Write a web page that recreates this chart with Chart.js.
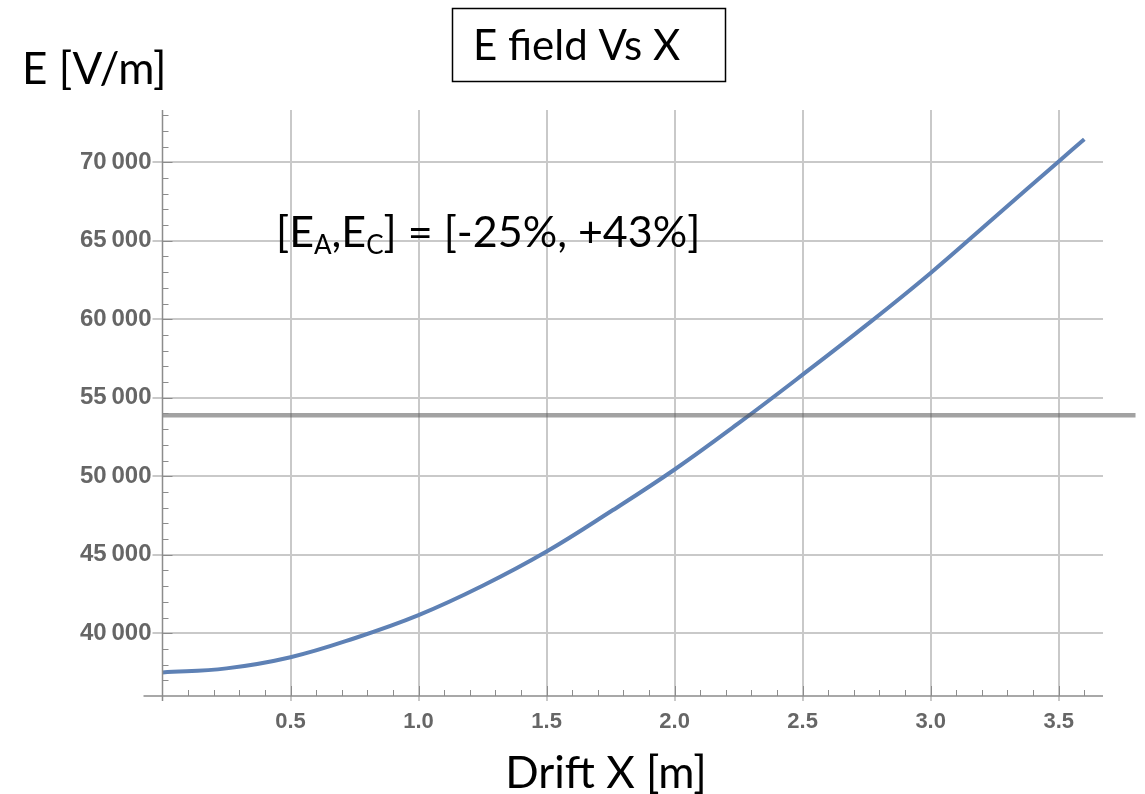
<!DOCTYPE html>
<html>
<head>
<meta charset="utf-8">
<script src="https://cdn.jsdelivr.net/npm/chart.js@4/dist/chart.umd.min.js"></script>
<style>
  html, body { margin: 0; padding: 0; background: #fff; }
  #wrap { width: 1145px; height: 794px; }
</style>
</head>
<body>
<div id="wrap"><canvas id="chart" width="1145" height="794"></canvas></div>
<script>
// valeurs (x en m, E en V/m)
const driftX = [0, 0.25, 0.5, 0.75, 1.0, 1.25, 1.5, 1.75, 2.0, 2.25, 2.5, 2.75, 3.0, 3.25, 3.5, 3.6];
const eField = [37500, 37760, 38470, 39680, 41150, 43020, 45200, 47750, 50430, 53380, 56470, 59640, 62950, 66500, 70050, 71470];

// graduations
const xTickValues = [0.5, 1.0, 1.5, 2.0, 2.5, 3.0, 3.5];
const yTickValues = [40000, 45000, 50000, 55000, 60000, 65000, 70000];

// ligne horizontale de référence
const refLineX = [0, 3.8];
const refLineE = 53880;

const chartTitle = "E field Vs X";
const yTitle = "E [V/m]";
const xTitle = "Drift X [m]";
const rangeNote = ["[E", "A", ",E", "C", "] = [-25%, +43%]"];

const axisGray = "#8c8c8c";
const gridGray = "#c9c9c9";
const textFont = "Lato, 'Open Sans', sans-serif";
const tickFont = "'Liberation Sans', Arial";

function groupDigits(v) {
  return String(v).replace(/\B(?=(\d{3})+(?!\d))/g, "\u2009");
}

// petits traits secondaires + axes + textes
const decorPlugin = {
  id: "decor",
  afterDraw(chart) {
    const { ctx, chartArea: a, scales: { x, y } } = chart;
    ctx.save();

    // traits mineurs
    ctx.strokeStyle = axisGray;
    ctx.lineWidth = 1;
    for (let i = 1; i <= 36; i++) {
      const px = Math.round(x.getPixelForValue(i / 10)) + 0.5;
      const len = i % 5 === 0 ? 10 : 6;
      ctx.beginPath();
      ctx.moveTo(px, a.bottom);
      ctx.lineTo(px, a.bottom - len);
      ctx.stroke();
    }
    for (let v = 37000; v <= 73000; v += 1000) {
      const py = Math.round(y.getPixelForValue(v)) + 0.5;
      const len = v % 5000 === 0 ? 10 : 6;
      ctx.beginPath();
      ctx.moveTo(a.left, py);
      ctx.lineTo(a.left + len, py);
      ctx.stroke();
    }

    // axes
    ctx.lineWidth = 1.5;
    ctx.beginPath();
    ctx.moveTo(a.left - 19, a.bottom);
    ctx.lineTo(a.right, a.bottom);
    ctx.moveTo(a.left, a.top);
    ctx.lineTo(a.left, a.bottom + 5);
    ctx.stroke();

    // textes
    ctx.fillStyle = "#000";
    ctx.textBaseline = "alphabetic";
    ctx.textAlign = "left";
    ctx.font = "44px " + textFont;
    ctx.fillText(yTitle, 22, 84);

    ctx.strokeStyle = "#000";
    ctx.lineWidth = 1.5;
    ctx.strokeRect(452.5, 8.5, 273, 73);
    ctx.font = "42px " + textFont;
    ctx.fillText(chartTitle, 473, 60);

    ctx.textAlign = "center";
    ctx.font = "44px " + textFont;
    ctx.fillText(xTitle, 606, 788);

    ctx.textAlign = "left";
    let tx = 276;
    rangeNote.forEach((part, i) => {
      const sub = i % 2 === 1;
      ctx.font = (sub ? "26px " : "43px ") + textFont;
      ctx.fillText(part, tx, sub ? 254 : 247);
      tx += ctx.measureText(part).width;
    });

    ctx.restore();
  }
};

const ctx = document.getElementById("chart");
new Chart(ctx, {
  type: "line",
  data: {
    datasets: [
      {
        data: refLineX.map(v => ({ x: v, y: refLineE })),
        borderColor: "rgba(85, 85, 85, 0.55)",
        borderWidth: 4.5,
        pointRadius: 0,
        clip: false,
        order: 0
      },
      {
        data: driftX.map((v, i) => ({ x: v, y: eField[i] })),
        borderColor: "#5e81b5",
        borderWidth: 4,
        pointRadius: 0,
        tension: 0.4,
        order: 1
      }
    ]
  },
  options: {
    responsive: false,
    animation: false,
    devicePixelRatio: 1,
    layout: { padding: { top: 110, right: 42, left: 0, bottom: 0 } },
    plugins: {
      legend: { display: false },
      tooltip: { enabled: false }
    },
    scales: {
      x: {
        type: "linear",
        min: 0,
        max: 3.673,
        afterFit: s => { s.height = 98; },
        afterBuildTicks: s => { s.ticks = xTickValues.map(v => ({ value: v })); },
        border: { display: false },
        grid: { color: gridGray, lineWidth: 2, tickLength: 5 },
        ticks: {
          autoSkip: false,
          maxRotation: 0,
          padding: 8,
          color: "#666",
          font: { family: tickFont, weight: "bold", size: 22 },
          callback: v => v.toFixed(1)
        }
      },
      y: {
        min: 36000,
        max: 73330,
        afterFit: s => { s.width = 162.5; },
        afterBuildTicks: s => { s.ticks = yTickValues.map(v => ({ value: v })); },
        border: { display: false },
        grid: { color: gridGray, lineWidth: 2, tickLength: 10 },
        ticks: {
          autoSkip: false,
          padding: 1,
          color: "#666",
          font: { family: tickFont, weight: "bold", size: 24 },
          callback: v => groupDigits(v)
        }
      }
    }
  },
  plugins: [decorPlugin]
});
</script>
</body>
</html>
